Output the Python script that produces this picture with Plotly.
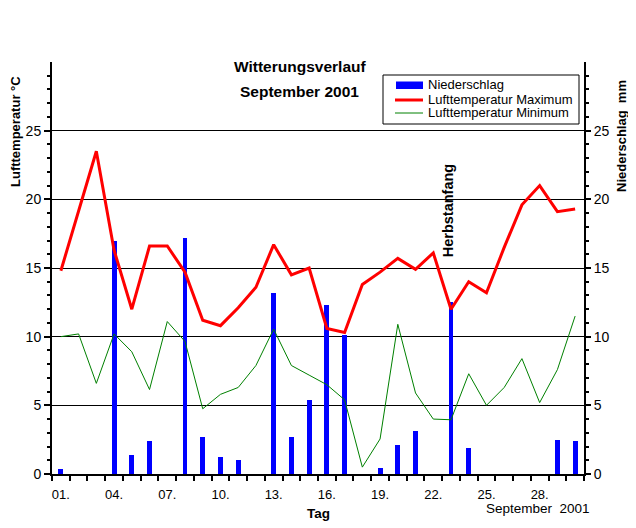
import plotly.graph_objects as go

# ---- data ----
days = list(range(1, 31))
temp_max = [14.8, 19.1, 23.5, 16.3, 12.0, 16.6, 16.6, 14.7, 11.2, 10.8,
            12.1, 13.6, 16.7, 14.5, 15.0, 10.6, 10.3, 13.8, 14.7, 15.7,
            14.9, 16.1, 12.0, 14.0, 13.2, 16.5, 19.6, 21.0, 19.1, 19.3]
temp_min = [10.0, 10.2, 6.6, 10.2, 8.9, 6.15, 11.1, 9.65, 4.75, 5.8,
            6.3, 7.9, 10.55, 7.9, 7.2, 6.5, 5.4, 0.5, 2.55, 10.9,
            5.9, 4.0, 3.95, 7.3, 5.0, 6.3, 8.4, 5.2, 7.6, 11.5]
precip = [0.4, 0, 0, 17.0, 1.36, 2.4, 0, 17.2, 2.67, 1.22,
          1.05, 0, 13.2, 2.67, 5.37, 12.3, 10.1, 0, 0.42, 2.1,
          3.1, 0, 12.5, 1.87, 0, 0, 0, 0, 2.45, 2.4]
tick_days = [1, 4, 7, 10, 13, 16, 19, 22, 25, 28]
tick_text = ["01.", "04.", "07.", "10.", "13.", "16.", "19.", "22.", "25.", "28."]
y_major = [0, 5, 10, 15, 20, 25]
y_labels = ["0", "5", "10", "15", "20", "25"]

FONT = "Liberation Sans, Arial, sans-serif"

fig = go.Figure()
fig.add_trace(go.Bar(x=days, y=precip, name="Niederschlag", marker=dict(color="#0000FF", line=dict(width=0)),
                     width=0.28, yaxis="y", showlegend=False))
fig.add_trace(go.Scatter(x=days, y=temp_max, mode="lines", name="Lufttemperatur Maximum",
                         line=dict(color="#FF0000", width=3), yaxis="y2", showlegend=False))
fig.add_trace(go.Scatter(x=days, y=temp_min, mode="lines", name="Lufttemperatur Minimum",
                         line=dict(color="#008000", width=1), yaxis="y2", showlegend=False))

minor_vals = [v for v in range(0, 30) if v % 5 != 0]

# page body has an 8px default margin; figure is sized so the plot lands where the original is
fig.update_layout(
    width=628, height=520,
    margin=dict(l=44, r=52, t=54, b=54),
    paper_bgcolor="white", plot_bgcolor="white",
    font=dict(family=FONT, color="black", size=13),
    bargap=0,
    xaxis=dict(range=[0.5, 30.5], tickmode="array", tickvals=tick_days, ticktext=tick_text,
               ticks="", showline=True, linecolor="black", linewidth=2, showgrid=False,
               zeroline=False, tickfont=dict(size=13), ticklabelstandoff=7,
               minor=dict(tickmode="array", tickvals=[d + 0.5 for d in range(0, 31)],
                          ticks="outside", ticklen=5, tickwidth=2, tickcolor="black", showgrid=False)),
    yaxis=dict(range=[0, 30], side="right", tickmode="array", tickvals=y_major, ticktext=y_labels,
               ticks="outside", ticklen=5, tickwidth=2, tickcolor="black",
               showline=True, linecolor="black", linewidth=2,
               showgrid=True, gridcolor="black", gridwidth=1, zeroline=False,
               tickfont=dict(size=14),
               minor=dict(tickmode="array", tickvals=minor_vals, ticks="outside", ticklen=3,
                          tickwidth=2, tickcolor="black", showgrid=False)),
    yaxis2=dict(range=[0, 30], side="left", overlaying="y", tickmode="array", tickvals=y_major,
                ticktext=y_labels, ticks="outside", ticklen=6, tickwidth=2, tickcolor="black",
                showline=True, linecolor="black", linewidth=2, showgrid=False, zeroline=False,
                tickfont=dict(size=14),
                minor=dict(tickmode="array", tickvals=minor_vals, ticks="outside", ticklen=3,
                           tickwidth=2, tickcolor="black", showgrid=False)),
)

def px(x):
    return (x - 52) / 532

def py(y):
    return (474 - y) / 412

def note(text, x, y, size=13, xanchor="center", angle=0):
    return dict(text=text, x=px(x), y=py(y), xref="paper", yref="paper", xanchor=xanchor,
                yanchor="middle", showarrow=False, textangle=angle, font=dict(size=size))

ann = [
    note("<b>Witterungsverlauf</b>", 300, 66, 15.5),
    note("<b>September 2001</b>", 299, 92, 15.5),
    note("<b>Lufttemperatur °C</b>", 15, 132, 13, angle=-90),
    note("<b>Niederschlag  mm</b>", 621, 136, 13, angle=-90),
    note("<b>Tag</b>", 318, 513, 13.5),
    note("September  2001", 592, 508, 13.5, xanchor="right"),
    dict(text="<b>Herbstanfang</b>", x=23, y=15.6, xref="x", yref="y2", xshift=-3,
         xanchor="center", yanchor="bottom", showarrow=False, textangle=-90, font=dict(size=14.5)),
]

# legend (drawn manually to match the compact original box)
legend_names = ["Niederschlag", "Lufttemperatur Maximum", "Lufttemperatur Minimum"]
legend_rows = [85, 99.5, 113]
for name, row in zip(legend_names, legend_rows):
    ann.append(note(name, 426, row, 13, xanchor="left"))

shapes = [
    dict(type="rect", xref="paper", yref="paper", x0=px(383), x1=px(579), y0=py(124), y1=py(75),
         line=dict(color="black", width=1), fillcolor="white", layer="above"),
    dict(type="rect", xref="paper", yref="paper", x0=px(396), x1=px(423), y0=py(89), y1=py(81.5),
         line=dict(width=0), fillcolor="#0000FF", layer="above"),
    dict(type="line", xref="paper", yref="paper", x0=px(395), x1=px(423), y0=py(100), y1=py(100),
         line=dict(color="#FF0000", width=3), layer="above"),
    dict(type="line", xref="paper", yref="paper", x0=px(395), x1=px(423), y0=py(113), y1=py(113),
         line=dict(color="#008000", width=1), layer="above"),
]
fig.update_layout(annotations=ann, shapes=shapes)

fig.write_html("out.html")
